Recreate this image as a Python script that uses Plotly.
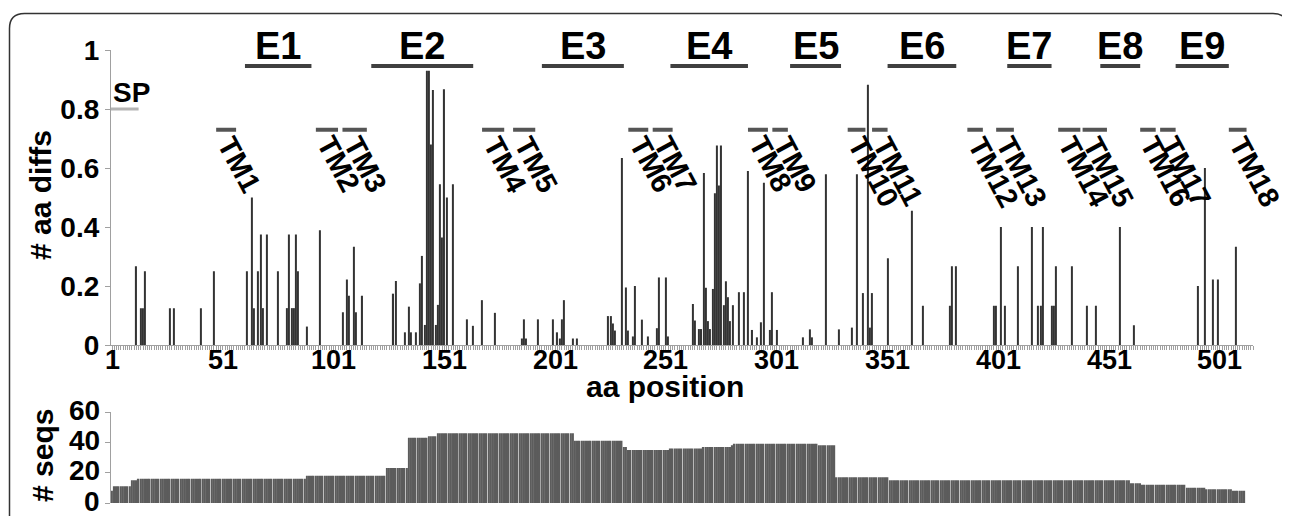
import plotly.graph_objects as go

# ---------------- data ----------------
diff_pos = [12, 14, 15, 16, 27, 29, 41, 47, 62, 64, 65, 67, 68, 69, 71, 76, 80, 81, 82, 83,
            84, 85, 89, 95, 105, 107, 108, 110, 111, 114, 128, 129, 133, 135, 136, 138, 140,
            141, 142, 143, 144, 145, 146, 147, 148, 149, 150, 151, 152, 155, 161, 164, 168,
            174, 186, 187, 188, 193, 200, 202, 203, 204, 205, 209, 211, 225, 226, 227, 228,
            231, 233, 234, 236, 237, 240, 243, 247, 248, 251, 252, 263, 264, 266, 267, 268,
            269, 270, 271, 272, 273, 274, 275, 276, 277, 278, 279, 280, 281, 284, 286, 288,
            290, 292, 294, 295, 298, 299, 301, 313, 316, 317, 323, 329, 335, 337, 340, 342,
            343, 344, 351, 362, 367, 379, 380, 382, 399, 400, 402, 404, 410, 416, 419, 420,
            421, 425, 426, 427, 434, 441, 445, 456, 462, 491, 494, 498, 500, 508]
diff_val = [0.267, 0.125, 0.125, 0.25, 0.125, 0.125, 0.125, 0.25, 0.25, 0.5, 0.125, 0.25,
            0.375, 0.125, 0.375, 0.25, 0.125, 0.375, 0.125, 0.125, 0.375, 0.25, 0.0625, 0.389,
            0.111, 0.222, 0.167, 0.333, 0.111, 0.167, 0.174, 0.217, 0.043, 0.13, 0.043, 0.043,
            0.209, 0.302, 0.068, 0.93, 0.93, 0.68, 0.864, 0.068, 0.136, 0.545, 0.364, 0.867,
            0.5, 0.545, 0.087, 0.065, 0.152, 0.109, 0.022, 0.087, 0.022, 0.087, 0.087, 0.043,
            0.022, 0.087, 0.152, 0.022, 0.022, 0.098, 0.098, 0.073, 0.049, 0.634, 0.195, 0.049,
            0.029, 0.2, 0.086, 0.029, 0.057, 0.229, 0.229, 0.029, 0.139, 0.083, 0.054, 0.054,
            0.583, 0.194, 0.081, 0.054, 0.19, 0.514, 0.676, 0.541, 0.676, 0.135, 0.216, 0.162,
            0.081, 0.135, 0.179, 0.179, 0.59, 0.051, 0.026, 0.077, 0.55, 0.051, 0.179, 0.051,
            0.026, 0.053, 0.026, 0.579, 0.053, 0.059, 0.579, 0.176, 0.882, 0.059, 0.176, 0.294,
            0.455, 0.133, 0.133, 0.267, 0.267, 0.133, 0.133, 0.4, 0.133, 0.267, 0.4, 0.133,
            0.133, 0.4, 0.133, 0.133, 0.267, 0.267, 0.133, 0.133, 0.4, 0.067, 0.2, 0.6, 0.222,
            0.222, 0.333]

# number of sequences per position, as constant runs
seg_start = [1, 2, 10, 13, 89, 125, 135, 144, 148, 210, 232, 234, 253, 268, 281, 282, 320,
             328, 352, 461, 466, 486, 495, 507]
seg_end = [1, 9, 12, 88, 124, 134, 143, 147, 209, 231, 233, 252, 267, 280, 281, 319, 327,
           351, 460, 465, 485, 494, 506, 512]
seg_seqs = [8, 11, 15, 16, 18, 23, 43, 44, 46, 41, 37, 35, 36, 37, 38, 39, 38, 17, 15, 13,
            12, 10, 9, 8]

x_ticks = [1, 51, 101, 151, 201, 251, 301, 351, 401, 451, 501]
y1_ticks = [0, 0.2, 0.4, 0.6, 0.8, 1]
y1_ticktext = ["0", "0.2", "0.4", "0.6", "0.8", "1"]
y2_ticks = [0, 20, 40, 60]

ecd_names = ["E1", "E2", "E3", "E4", "E5", "E6", "E7", "E8", "E9"]
ecd_start = [61, 118, 195, 253, 307, 351, 405, 447, 481]
ecd_end = [91, 164, 232, 288, 330, 382, 425, 465, 505]

tm_names = ["TM%d" % i for i in range(1, 19)]
tm_start = [48, 93, 105, 168, 182, 234, 245, 288, 299, 333, 344, 387, 400, 428, 439, 465, 474, 505]
tm_end = [57, 103, 116, 178, 192, 243, 254, 297, 306, 341, 351, 394, 408, 438, 450, 472, 481, 513]

sp_start, sp_end, sp_level = 0.5, 13, 0.8
tm_level = 0.73

# ---------------- layout helpers ----------------
# the page body has an 8px margin, so the figure is drawn 8px in from the top-left
OFF = 8
W, H = 1290 - OFF, 516 - OFF
FONT = "Liberation Sans, Arial, sans-serif"


def px(t):
    return (t - OFF) / W


def py(t):
    return 1 - (t - OFF) / H


X_DOM = [px(110.9), px(1253.2)]
X_RANGE = [0.5, 516]
Y1_DOM = [py(345), py(50)]
Y2_DOM = [py(503), py(412)]
E_BAR_Y = py(66)
E_TXT_Y = py(46)

seq_pos, seq_val = [], []
for s, e, v in zip(seg_start, seg_end, seg_seqs):
    for p in range(s, e + 1):
        seq_pos.append(p)
        seq_val.append(v)

fig = go.Figure()
fig.add_trace(go.Bar(x=diff_pos, y=diff_val, width=0.5, xaxis="x", yaxis="y",
                     marker=dict(color="#333333", line=dict(width=0)), showlegend=False))
fig.add_trace(go.Bar(x=seq_pos, y=seq_val, width=0.72, xaxis="x2", yaxis="y2",
                     marker=dict(color="#5c5c5c", line=dict(width=0)), showlegend=False))

tickfont = dict(family=FONT, size=28, color="black", weight="bold")
xtickfont = dict(family=FONT, size=27, color="black", weight="bold")
axcol = "#a0a0a0"

shapes = []
for s, e in zip(ecd_start, ecd_end):
    shapes.append(dict(type="line", xref="x", yref="paper", x0=s, x1=e, y0=E_BAR_Y, y1=E_BAR_Y,
                       line=dict(color="#404040", width=4)))
for s, e in zip(tm_start, tm_end):
    shapes.append(dict(type="line", xref="x", yref="y", x0=s, x1=e, y0=tm_level, y1=tm_level,
                       line=dict(color="#555555", width=4)))
shapes.append(dict(type="line", xref="x", yref="y", x0=sp_start, x1=sp_end, y0=sp_level,
                   y1=sp_level, line=dict(color="#b4b4b4", width=3)))
# rounded frame
r = 15
fl, fr, ft = 9.5, 1288.0, 13.5
path = ("M %f,%f L %f,%f Q %f,%f %f,%f L %f,%f Q %f,%f %f,%f L %f,%f" % (
    px(fl), -0.05, px(fl), py(ft + r), px(fl), py(ft), px(fl + r), py(ft),
    px(fr - r), py(ft), px(fr), py(ft), px(fr), py(ft + r), px(fr), -0.05))
shapes.append(dict(type="path", xref="paper", yref="paper", path=path,
                   line=dict(color="#333333", width=1.5)))

ann = []
for name, s, e in zip(ecd_names, ecd_start, ecd_end):
    ann.append(dict(text=name, xref="x", yref="paper", x=(s + e) / 2, y=E_TXT_Y,
                    xanchor="center", yanchor="middle", showarrow=False,
                    font=dict(family=FONT, size=38, color="black", weight="bold")))
for name, s in zip(tm_names, tm_start):
    ann.append(dict(text=name, xref="x", yref="y", x=s, y=tm_level, xshift=-8, yshift=1,
                    xanchor="left", yanchor="top", showarrow=False, textangle=62,
                    font=dict(family=FONT, size=29, color="black", weight="bold")))
for v in x_ticks:
    ann.append(dict(text=str(v), xref="x", yref="paper", x=v, y=py(360), borderpad=0,
                    xanchor="center", yanchor="middle", showarrow=False, font=xtickfont))
for v in y2_ticks:
    ann.append(dict(text=str(v), xref="paper", yref="y2", x=px(102), y=v, yshift=2,
                    xanchor="right", yanchor="middle", showarrow=False, font=tickfont))
ann.append(dict(text="SP", xref="x", yref="paper", x=sp_start, y=py(92), xanchor="left",
                yanchor="middle", showarrow=False,
                font=dict(family=FONT, size=28, color="black", weight="bold")))
ann.append(dict(text="# aa diffs", xref="paper", yref="paper", x=px(40), y=py(195),
                xanchor="center", yanchor="middle", showarrow=False, textangle=-90,
                font=dict(family=FONT, size=30, color="black", weight="bold")))
ann.append(dict(text="aa position", xref="paper", yref="paper", x=px(665), y=py(386),
                borderpad=0, xanchor="center", yanchor="middle", showarrow=False,
                font=dict(family=FONT, size=30, color="black", weight="bold")))
ann.append(dict(text="# seqs", xref="paper", yref="paper", x=px(42), y=py(456),
                xanchor="center", yanchor="middle", showarrow=False, textangle=-90,
                font=dict(family=FONT, size=30, color="black", weight="bold")))

fig.update_layout(
    width=W, height=H, margin=dict(l=0, r=0, t=0, b=0, pad=0, autoexpand=False),
    paper_bgcolor="white", plot_bgcolor="white", showlegend=False,
    font=dict(family=FONT),
    xaxis=dict(domain=X_DOM, range=X_RANGE, anchor="y", showline=True, linecolor=axcol,
               linewidth=1, ticks="outside", ticklen=4, tickcolor=axcol, tickmode="array",
               tickvals=x_ticks, showticklabels=False,
               showgrid=False, zeroline=False, automargin=False,
               minor=dict(ticks="outside", dtick=1, tick0=0, ticklen=4, tickcolor=axcol,
                          showgrid=False)),
    yaxis=dict(domain=Y1_DOM, range=[0, 1], anchor="x", showline=True, linecolor=axcol,
               linewidth=1, ticks="outside", ticklen=5, tickcolor=axcol, tickmode="array",
               tickvals=y1_ticks, ticktext=y1_ticktext, tickfont=tickfont, showgrid=False,
               zeroline=False, automargin=False),
    xaxis2=dict(domain=X_DOM, range=X_RANGE, anchor="y2", visible=False, automargin=False),
    yaxis2=dict(domain=Y2_DOM, range=[0, 60], anchor="x2", showline=True, linecolor=axcol,
                linewidth=1, ticks="outside", ticklen=5, tickcolor=axcol, tickmode="array",
                tickvals=y2_ticks, showticklabels=False,
                showgrid=False, zeroline=False, automargin=False),
    shapes=shapes, annotations=ann,
)

fig.write_html("out.html")
